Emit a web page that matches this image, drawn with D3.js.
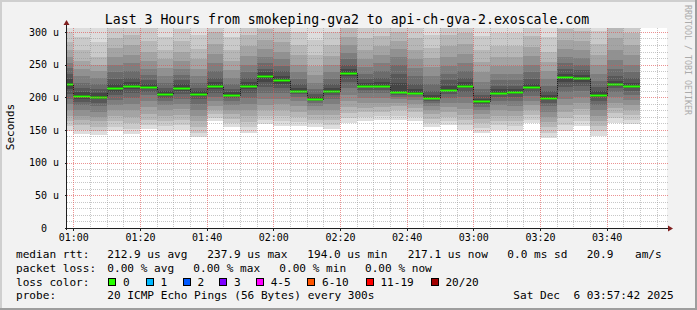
<!DOCTYPE html>
<html>
<head>
<meta charset="utf-8">
<script src="https://cdn.jsdelivr.net/npm/d3@7"></script>
<style>
    html, body { margin: 0; padding: 0; background: #f2f2f2; }
    svg { display: block; font-family: "DejaVu Sans Mono", monospace; }
    text { white-space: pre; }
</style>
</head>
<body>
<div id="chart"></div>
<script>
// Median rtt per 5 minute step (microseconds)
const medians = [220.4, 202.5, 201, 213.7, 217.8, 216, 205, 214.8, 205, 217.8, 204, 217.8,
    232.6, 226.5, 210, 197, 210, 237.9, 217.8, 217.8, 208.6, 207, 199, 211.7, 217.8,
    194, 207, 208, 216, 199, 230.6, 229, 204, 220.4, 217.1];

// 20 sorted ping times per step (microseconds), read from the smoke
const pings = [
    [149,156,164,172,180,190,198,205,212,218,222,228,236,245,252,262,272,285,300,330],
    [144,150,157,165,172,180,188,193,198,201,204,208,214,222,232,244,256,272,292,320],
    [142,148,155,163,170,178,186,192,197,200,202,206,212,220,230,240,250,262,285,318],
    [148,155,163,172,180,188,196,203,208,212,215,220,228,238,250,262,275,290,310,340],
    [144,152,160,170,180,190,199,206,212,216,219,223,230,240,252,265,280,296,320,350],
    [151,158,166,175,185,195,203,208,212,215,217,220,226,234,244,256,270,286,306,335],
    [149,156,164,172,180,188,195,199,202,204,206,209,214,222,232,245,258,272,292,320],
    [150,157,165,173,182,190,198,205,210,213,216,220,226,234,244,256,270,286,305,335],
    [139,146,154,163,172,181,190,197,202,204,206,209,214,222,232,244,258,274,295,322],
    [163,168,174,180,187,194,201,207,212,216,219,223,230,240,252,266,282,300,322,355],
    [154,160,167,174,181,188,194,199,202,203,205,208,213,220,230,242,256,272,292,320],
    [146,154,162,171,180,190,199,206,212,216,219,223,229,238,250,263,278,295,316,345],
    [159,165,172,180,188,197,206,215,224,230,234,238,244,252,262,274,288,305,326,360],
    [156,163,171,180,189,198,207,214,220,224,228,233,240,248,258,270,284,300,322,352],
    [156,162,170,178,186,194,201,205,208,209,211,214,220,228,238,250,264,280,300,330],
    [154,160,166,173,180,186,191,194,196,197,198,200,205,212,222,234,248,265,288,318],
    [151,158,165,173,181,189,197,203,207,209,211,214,220,228,238,250,263,280,300,330],
    [160,168,176,185,194,204,214,224,232,236,239,243,250,258,268,280,292,308,328,360],
    [164,170,177,184,192,199,206,211,215,217,219,222,228,236,246,258,272,290,310,340],
    [165,171,178,185,192,199,206,211,215,217,219,223,230,240,252,264,278,294,314,345],
    [165,172,180,186,192,197,201,204,206,207,210,222,235,250,262,274,286,300,320,350],
    [164,170,177,184,190,196,200,203,205,206,208,212,220,232,245,258,272,290,312,340],
    [154,160,167,174,181,187,192,195,197,198,200,203,210,220,232,246,260,276,296,325],
    [157,163,170,177,185,192,199,205,209,211,213,218,226,236,248,262,278,296,318,350],
    [150,157,165,173,182,191,200,208,214,217,219,223,230,240,252,266,282,298,318,345],
    [146,153,160,167,174,180,185,189,191,192,195,198,203,212,224,238,254,272,294,325],
    [150,157,164,172,180,188,195,201,205,206,208,212,218,226,236,248,262,278,298,328],
    [149,156,163,171,179,187,195,201,205,207,209,212,218,226,236,248,262,278,298,328],
    [160,166,173,180,188,195,202,208,212,215,217,221,228,238,250,263,277,293,313,345],
    [138,146,154,162,170,178,186,192,196,198,200,204,210,218,228,240,254,270,292,322],
    [149,158,168,178,188,198,208,216,224,229,232,236,243,252,262,274,288,305,326,360],
    [156,164,173,182,191,200,209,217,224,228,230,234,241,250,260,272,286,302,322,355],
    [140,148,156,164,172,180,188,195,200,203,205,209,216,225,236,249,264,281,302,335],
    [161,168,176,184,192,200,208,214,218,220,221,225,233,244,257,272,290,310,335,370],
    [159,166,173,180,188,196,204,210,214,216,218,222,229,238,250,264,280,298,320,350]
];

const yTicks = [0, 50, 100, 150, 200, 250, 300];
const titleText = "Last 3 Hours from smokeping-gva2 to api-ch-gva-2.exoscale.com";
const yLabel = "Seconds";
const rttStats = ["212.9 us avg", "237.9 us max", "194.0 us min", "217.1 us now", "0.0 ms sd", "20.9", "am/s"];
const lossStats = ["0.00 % avg", "0.00 % max", "0.00 % min", "0.00 % now"];
const lossLabels = ["0", "1", "2", "3", "4-5", "6-10", "11-19", "20/20"];
const lossColors = ["#26ff00", "#00b8ff", "#0059ff", "#7e00ff", "#ff00ff", "#ff5500", "#ff0000", "#a10000"];
const probeText = "20 ICMP Echo Pings (56 Bytes) every 300s";
const stampText = "Sat Dec  6 03:57:42 2025";

// Time range of the graph
const tStart = new Date(Date.UTC(2025, 11, 6, 0, 58, 7));
const tEnd = new Date(+tStart + 3 * 3600e3);
const firstStep = new Date(Date.UTC(2025, 11, 6, 0, 55, 0));
const stepMs = 300e3;
const stepTimes = medians.map((d, i) => new Date(+firstStep + i * stepMs));

const width = 697, height = 310;
const pLeft = 67, pRight = 667, pTop = 28, pBottom = 228;

const svg = d3.select("#chart").append("svg")
    .attr("width", width)
    .attr("height", height);

// Background + 3D frame
svg.append("rect").attr("width", width).attr("height", height).attr("fill", "#f2f2f2");
svg.append("path").attr("d", `M0,${height} V0 H${width}`).attr("fill", "none")
    .attr("stroke", "#cfcfcf").attr("stroke-width", 4);
svg.append("path").attr("d", `M0,${height} H${width} V0`).attr("fill", "none")
    .attr("stroke", "#9e9e9e").attr("stroke-width", 4);

const x = d3.scaleUtc().domain([tStart, tEnd]).range([pLeft, pRight]);
const y = d3.scaleLinear().domain([0, 306]).range([pBottom, pTop]);

// Canvas
svg.append("rect")
    .attr("x", pLeft).attr("y", pTop)
    .attr("width", pRight - pLeft).attr("height", pBottom - pTop)
    .attr("fill", "#ffffff");

svg.append("clipPath").attr("id", "plotclip")
    .append("rect")
    .attr("x", pLeft).attr("y", pTop)
    .attr("width", pRight - pLeft).attr("height", pBottom - pTop);

const plot = svg.append("g").attr("clip-path", "url(#plotclip)");

// Smoke: pairs of pings from outside in, lighter to darker
const half = 10;
const grayOf = k => {
    const g = Math.floor(190 / half * (half - (k + 1)) + 50);
    return d3.rgb(g, g, g).formatHex();
};

stepTimes.forEach((t, i) => {
    const p = pings[i];
    const x0 = Math.round(x(t));
    const x1 = Math.round(x(new Date(+t + stepMs)));
    plot.append("g")
        .selectAll("rect")
        .data(d3.range(half))
        .enter()
        .append("rect")
        .attr("x", x0)
        .attr("width", x1 - x0)
        .attr("y", k => Math.round(y(p[19 - k])))
        .attr("height", k => Math.round(y(p[k])) - Math.round(y(p[19 - k])))
        .attr("fill", k => grayOf(k))
        .attr("shape-rendering", "crispEdges");
});

// Median: dark step line underneath, green segments on top
const stepPts = stepTimes.map((t, i) => [t, medians[i]]);
stepPts.push([new Date(+stepTimes[stepTimes.length - 1] + stepMs), medians[medians.length - 1]]);
plot.append("path")
    .datum(stepPts)
    .attr("fill", "none")
    .attr("stroke", "#202020")
    .attr("stroke-width", 1)
    .attr("d", d3.line()
        .x(d => Math.round(x(d[0])) + 0.5)
        .y(d => Math.round(y(d[1])) + 0.5)
        .curve(d3.curveStepAfter));

plot.append("g")
    .selectAll("line")
    .data(stepTimes)
    .enter()
    .append("line")
    .attr("x1", t => Math.round(x(t)))
    .attr("x2", t => Math.round(x(new Date(+t + stepMs))))
    .attr("y1", (t, i) => Math.round(y(medians[i])) + 0.5)
    .attr("y2", (t, i) => Math.round(y(medians[i])) + 0.5)
    .attr("stroke", lossColors[0])
    .attr("stroke-width", 2);

// Grid on top of the data
const grid = svg.append("g").attr("shape-rendering", "crispEdges");
const minorY = d3.range(10, 301, 10).filter(v => v % 50 !== 0);
const majorY = yTicks.filter(v => v > 0);
const minorX = d3.utcMinute.every(5).range(tStart, tEnd).filter(t => t.getUTCMinutes() % 20 !== 0);
const majorX = d3.utcMinute.every(20).range(tStart, tEnd);
const minorCol = "rgba(143,143,143,0.5)";
const majorCol = "rgba(222,79,79,0.62)";

grid.selectAll(".hminor").data(minorY).enter().append("line")
    .attr("x1", pLeft).attr("x2", pRight + 2)
    .attr("y1", v => Math.round(y(v)) + 0.5).attr("y2", v => Math.round(y(v)) + 0.5)
    .attr("stroke", minorCol).attr("stroke-dasharray", "1,1");
grid.selectAll(".vminor").data(minorX).enter().append("line")
    .attr("y1", pTop).attr("y2", pBottom + 2)
    .attr("x1", t => Math.round(x(t)) + 0.5).attr("x2", t => Math.round(x(t)) + 0.5)
    .attr("stroke", minorCol).attr("stroke-dasharray", "1,1");
grid.selectAll(".hmajor").data(majorY).enter().append("line")
    .attr("x1", pLeft).attr("x2", pRight + 2)
    .attr("y1", v => Math.round(y(v)) + 0.5).attr("y2", v => Math.round(y(v)) + 0.5)
    .attr("stroke", majorCol).attr("stroke-dasharray", "1,1");
grid.selectAll(".vmajor").data(majorX).enter().append("line")
    .attr("y1", pTop).attr("y2", pBottom + 3)
    .attr("x1", t => Math.round(x(t)) + 0.5).attr("x2", t => Math.round(x(t)) + 0.5)
    .attr("stroke", majorCol).attr("stroke-dasharray", "1,1");

// Axes (labels through d3 axes)
const xAxis = svg.append("g")
    .attr("transform", `translate(0,${pBottom})`)
    .call(d3.axisBottom(x)
        .tickValues(majorX)
        .tickFormat(d3.utcFormat("%H:%M"))
        .tickSize(3)
        .tickPadding(3));
xAxis.select(".domain").remove();
xAxis.selectAll("line").attr("stroke", "#1f1f1f").attr("shape-rendering", "crispEdges");
xAxis.selectAll("text")
    .attr("fill", "#000")
    .style("font-family", "DejaVu Sans Mono")
    .style("font-size", "10px");

const yAxis = svg.append("g")
    .attr("transform", `translate(${pLeft},0)`)
    .call(d3.axisLeft(y)
        .tickValues(yTicks)
        .tickFormat(d => d === 0 ? "0  " : `${d} u`)
        .tickSize(2)
        .tickPadding(6));
yAxis.select(".domain").remove();
yAxis.selectAll("line").attr("stroke", "#1f1f1f").attr("shape-rendering", "crispEdges");
yAxis.selectAll("text")
    .attr("fill", "#000")
    .style("font-family", "DejaVu Sans Mono")
    .style("font-size", "10px");

// Axis lines and arrows
svg.append("line")
    .attr("x1", pLeft - 2).attr("x2", pRight + 2)
    .attr("y1", pBottom + 0.5).attr("y2", pBottom + 0.5)
    .attr("stroke", "#1f1f1f").attr("shape-rendering", "crispEdges");
svg.append("line")
    .attr("x1", pLeft - 0.5).attr("x2", pLeft - 0.5)
    .attr("y1", pBottom + 2).attr("y2", pTop - 3)
    .attr("stroke", "#1f1f1f").attr("shape-rendering", "crispEdges");
svg.append("path")
    .attr("d", `M${pRight + 1},${pBottom - 2.5} L${pRight + 6},${pBottom + 0.5} L${pRight + 1},${pBottom + 3.5} Z`)
    .attr("fill", "#801f1f");
svg.append("path")
    .attr("d", `M${pLeft - 3.5},${pTop - 3} L${pLeft - 0.5},${pTop - 8} L${pLeft + 2.5},${pTop - 3} Z`)
    .attr("fill", "#801f1f");

// Title, axis label, watermark
svg.append("text")
    .attr("x", 347).attr("y", 23.5)
    .attr("text-anchor", "middle")
    .style("font-size", "13.2px")
    .attr("fill", "#000")
    .text(titleText);

svg.append("text")
    .attr("transform", "translate(14,127) rotate(-90)")
    .attr("text-anchor", "middle")
    .style("font-size", "11px")
    .attr("fill", "#000")
    .text(yLabel);

svg.append("text")
    .attr("transform", "translate(685,5) rotate(90)")
    .style("font-size", "8.3px")
    .attr("fill", "#ababab")
    .text("RRDTOOL / TOBI OETIKER");

// Legend
const legend = svg.append("g").style("font-size", "11.1px").attr("fill", "#000");
const rowY = [258, 272, 285.5, 299];
const rttX = [107.3, 207.3, 307.3, 407.7, 507.3, 586.7, 635];
const lossX = [107.3, 193.3, 279.3, 365];
const boxX = [108.3, 145.7, 182.7, 219.3, 256, 307.3, 365.7, 430.7];

legend.append("text").attr("x", 16).attr("y", rowY[0]).text("median rtt:");
legend.selectAll(".rtt").data(rttStats).enter().append("text")
    .attr("x", (d, i) => rttX[i]).attr("y", rowY[0]).text(d => d);

legend.append("text").attr("x", 16).attr("y", rowY[1]).text("packet loss:");
legend.selectAll(".loss").data(lossStats).enter().append("text")
    .attr("x", (d, i) => lossX[i]).attr("y", rowY[1]).text(d => d);

legend.append("text").attr("x", 16).attr("y", rowY[2]).text("loss color:");
legend.selectAll(".lbox").data(lossLabels).enter().append("rect")
    .attr("x", (d, i) => Math.round(boxX[i]) + 0.5)
    .attr("y", rowY[2] - 7.5)
    .attr("width", 7).attr("height", 7)
    .attr("fill", (d, i) => lossColors[i])
    .attr("stroke", "#000")
    .attr("shape-rendering", "crispEdges");
legend.selectAll(".llab").data(lossLabels).enter().append("text")
    .attr("x", (d, i) => boxX[i] + 14.7).attr("y", rowY[2]).text(d => d);

legend.append("text").attr("x", 16).attr("y", rowY[3]).text("probe:");
legend.append("text").attr("x", 107.3).attr("y", rowY[3]).text(probeText);
legend.append("text").attr("x", 513.3).attr("y", rowY[3]).text(stampText);
</script>
</body>
</html>
